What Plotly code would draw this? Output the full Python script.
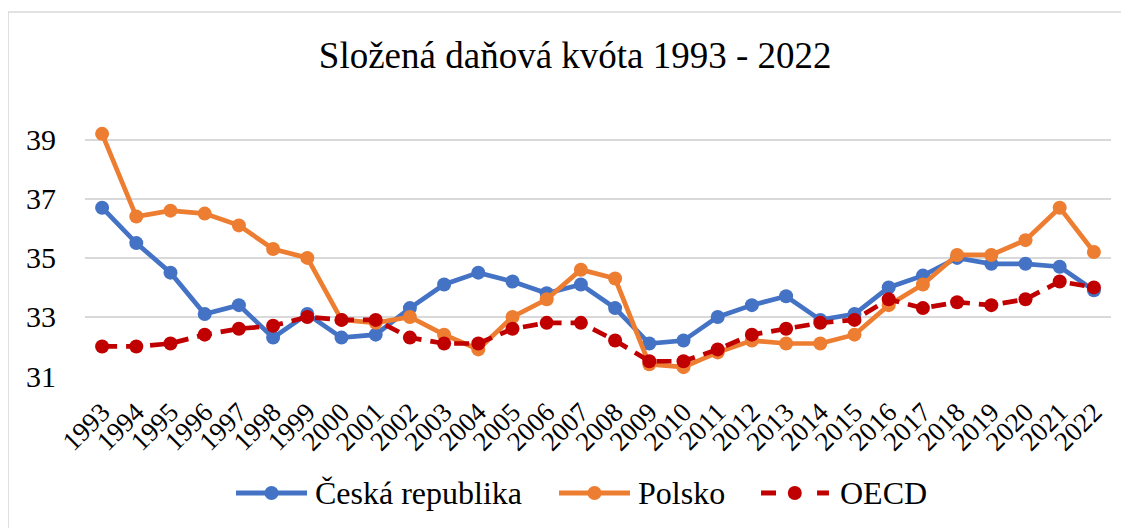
import plotly.graph_objects as go

years = [str(y) for y in range(1993, 2023)]

cz = [36.7, 35.5, 34.5, 33.1, 33.4, 32.3, 33.1, 32.3, 32.4, 33.3,
      34.1, 34.5, 34.2, 33.8, 34.1, 33.3, 32.1, 32.2, 33.0, 33.4,
      33.7, 32.9, 33.1, 34.0, 34.4, 35.0, 34.8, 34.8, 34.7, 33.9]
pl = [39.2, 36.4, 36.6, 36.5, 36.1, 35.3, 35.0, 32.9, 32.8, 33.0,
      32.4, 31.9, 33.0, 33.6, 34.6, 34.3, 31.4, 31.3, 31.8, 32.2,
      32.1, 32.1, 32.4, 33.4, 34.1, 35.1, 35.1, 35.6, 36.7, 35.2]
oecd = [32.0, 32.0, 32.1, 32.4, 32.6, 32.7, 33.0, 32.9, 32.9, 32.3,
        32.1, 32.1, 32.6, 32.8, 32.8, 32.2, 31.5, 31.5, 31.9, 32.4,
        32.6, 32.8, 32.9, 33.6, 33.3, 33.5, 33.4, 33.6, 34.2, 34.0]

names = ["Česká republika", "Polsko", "OECD"]
colors = ["#4472C4", "#ED7D31", "#C00000"]

font = "Liberation Serif, Times New Roman, serif"

fig = go.Figure()
for vals, name, col in zip([cz, pl, oecd], names, colors):
    fig.add_trace(go.Scatter(
        x=years, y=vals, name=name, mode="lines+markers",
        line=dict(color=col, width=4.7, dash="15px,9px" if name == "OECD" else "solid"),
        marker=dict(size=14, color=col), cliponaxis=False, showlegend=False))

# outer chart border
fig.add_shape(type="rect", xref="paper", yref="paper",
              x0=-0.075, x1=1.1, y0=-0.7, y1=1.45,
              line=dict(color="#D9D9D9", width=1.5), layer="below")

# hand-drawn legend (Excel style: long line symbol)
leg_y = -0.466
leg_x = [0.1472, 0.4620, 0.6589]
sym_w = 0.0692
for lx, name, col in zip(leg_x, names, colors):
    if name == "OECD":
        segs = [(lx, lx + 0.0146), (lx + sym_w - 0.0146, lx + sym_w - 0.003)]
    else:
        segs = [(lx, lx + sym_w)]
    for a, b in segs:
        fig.add_shape(type="line", xref="paper", yref="paper", x0=a, x1=b,
                      y0=leg_y, y1=leg_y, line=dict(color=col, width=5))
    cx = lx + sym_w / 2 - (0.0017 if name == "OECD" else 0)
    fig.add_shape(type="circle", xref="paper", yref="paper",
                  xsizemode="pixel", ysizemode="pixel", xanchor=cx, yanchor=leg_y,
                  x0=-7, x1=7, y0=-7, y1=7, fillcolor=col, line=dict(width=0))
    fig.add_annotation(x=lx + sym_w + 0.006, y=leg_y, xref="paper", yref="paper",
                       text=name, showarrow=False, xanchor="left", yanchor="middle",
                       font=dict(size=32, family=font, color="black"))

fig.update_layout(
    width=1121, height=520,
    margin=dict(l=77, r=18, t=117, b=152),
    paper_bgcolor="white", plot_bgcolor="white",
    font=dict(family=font, color="black"),
    title=dict(text="Složená daňová kvóta 1993 - 2022", x=0.506, xanchor="center",
               y=0.91, yanchor="middle", font=dict(size=37, family=font)),
    showlegend=False,
    xaxis=dict(type="category", tickangle=-45, tickfont=dict(size=27, family=font),
               showgrid=False, showline=False, ticks="", range=[-0.5, 29.5],
               ticklabelstandoff=14, automargin=False),
    yaxis=dict(range=[31, 39.5], tickvals=[31, 33, 35, 37, 39], showgrid=True,
               gridcolor="#D9D9D9", gridwidth=1.5, zeroline=False, showline=False,
               tickfont=dict(size=30, family=font), ticks="", ticklen=0,
               ticklabelstandoff=28, automargin=False),
)

fig.write_html("out.html")
